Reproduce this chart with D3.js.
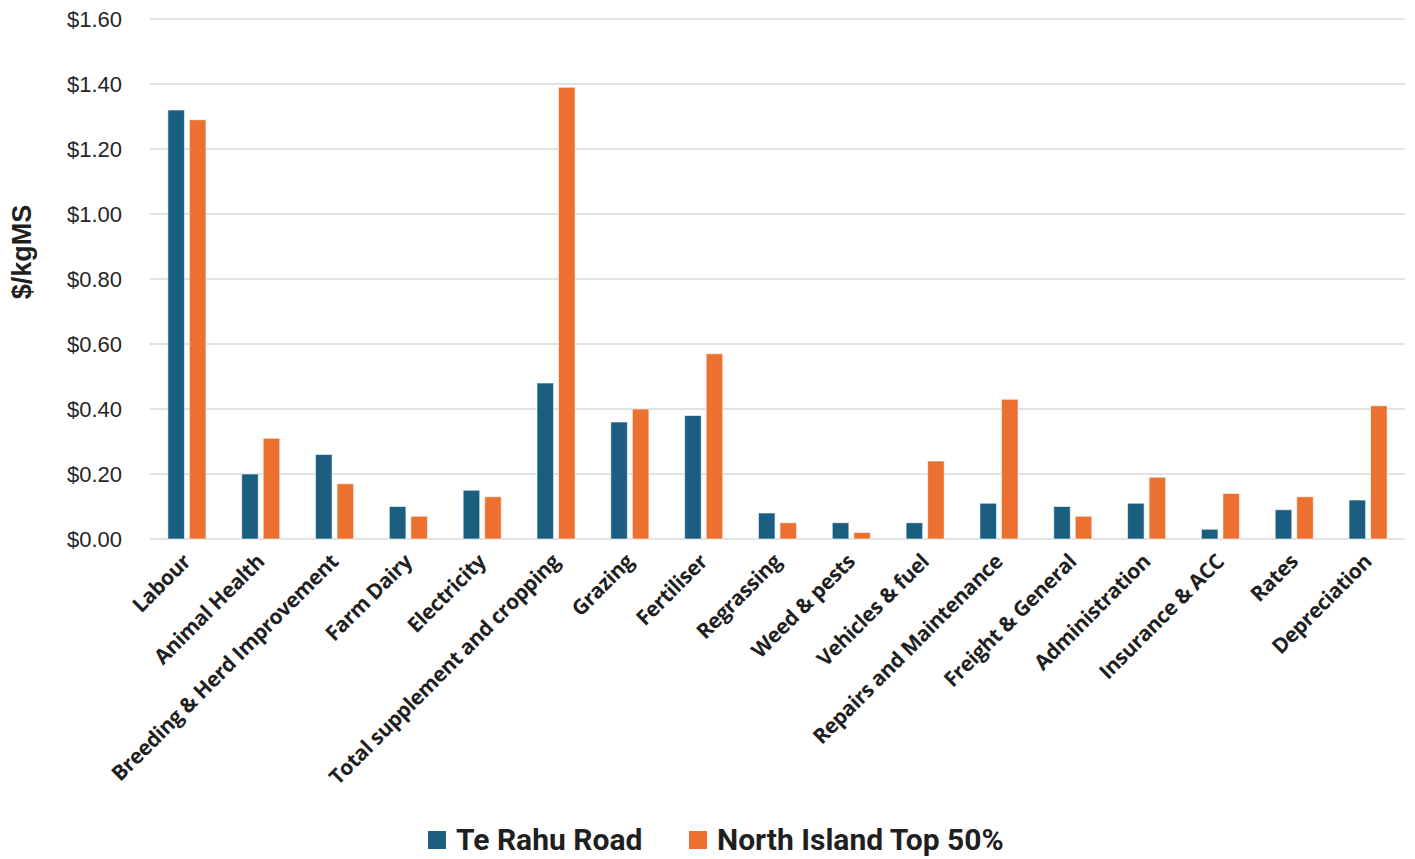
<!DOCTYPE html>
<html>
<head>
<meta charset="utf-8">
<script src="https://cdn.jsdelivr.net/npm/d3@7"></script>
<style>
  body { margin: 0; background: #fff; }
  svg { display: block; }
</style>
</head>
<body>
<div id="chart"></div>
<script>
const categories = ['Labour', 'Animal Health', 'Breeding & Herd Improvement', 'Farm Dairy', 'Electricity',
  'Total supplement and cropping', 'Grazing', 'Fertiliser', 'Regrassing', 'Weed & pests', 'Vehicles & fuel',
  'Repairs and Maintenance', 'Freight & General', 'Administration', 'Insurance & ACC', 'Rates', 'Depreciation'];
const teRahuRoad = [1.32, 0.20, 0.26, 0.10, 0.15, 0.48, 0.36, 0.38, 0.08, 0.05, 0.05, 0.11, 0.10, 0.11, 0.03, 0.09, 0.12];
const northIslandTop50 = [1.29, 0.31, 0.17, 0.07, 0.13, 1.39, 0.40, 0.57, 0.05, 0.02, 0.24, 0.43, 0.07, 0.19, 0.14, 0.13, 0.41];
const seriesNames = ['Te Rahu Road', 'North Island Top 50%'];
const yTicks = [0, 0.2, 0.4, 0.6, 0.8, 1.0, 1.2, 1.4, 1.6];

const W = 1415, H = 859;
const margin = { top: 19, right: 10, bottom: 320, left: 150 };
const colors = ['#1a5e80', '#ec7030'];

const svg = d3.select('#chart').append('svg')
  .attr('width', W).attr('height', H);

const x = d3.scaleBand()
  .domain(categories)
  .range([margin.left, W - margin.right]);

// inner band for the two series, bars ~16px wide with a small gap
const x1 = d3.scaleBand()
  .domain(seriesNames)
  .range([0, x.bandwidth()])
  .paddingInner(0.23)
  .paddingOuter(0.83);

const y = d3.scaleLinear()
  .domain([0, 1.6])
  .range([H - margin.bottom, margin.top]);

// gridlines
svg.append('g')
  .selectAll('line')
  .data(yTicks)
  .join('line')
  .attr('x1', margin.left).attr('x2', W - margin.right)
  .attr('y1', d => y(d)).attr('y2', d => y(d))
  .style('stroke', '#d9d9d9')
  .style('stroke-width', '1.5px');

// y axis labels
const yAxis = svg.append('g')
  .attr('transform', `translate(${margin.left - 28},0)`)
  .call(d3.axisLeft(y).tickValues(yTicks).tickSize(0).tickPadding(0).tickFormat(d => '$' + d.toFixed(2)));
yAxis.select('.domain').remove();
yAxis.selectAll('text')
  .style('font-family', '"Liberation Sans", Arial, sans-serif')
  .style('font-size', '22px')
  .style('fill', '#262626');

// bars
const rows = categories.map((c, i) => ({ cat: c, vals: [teRahuRoad[i], northIslandTop50[i]] }));
const groups = svg.append('g').selectAll('g')
  .data(rows)
  .join('g')
  .attr('transform', d => `translate(${x(d.cat)},0)`);

groups.selectAll('rect')
  .data(d => d.vals.map((v, j) => ({ s: seriesNames[j], v, j })))
  .join('rect')
  .attr('x', d => x1(d.s))
  .attr('width', x1.bandwidth())
  .attr('y', d => y(d.v))
  .attr('height', d => y(0) - y(d.v))
  .style('fill', d => colors[d.j])
  .style('stroke', '#ffffff')
  .style('stroke-opacity', 0.6)
  .style('stroke-width', '1px');

// category labels
svg.append('g').selectAll('text')
  .data(categories)
  .join('text')
  .attr('transform', d => `translate(${x(d) + x.bandwidth() / 2 + 5},${y(0) + 24}) rotate(-45)`)
  .attr('text-anchor', 'end')
  .style('font-family', '"Open Sans", sans-serif')
  .style('font-weight', '700')
  .style('font-size', '21px')
  .style('letter-spacing', '-0.4px')
  .style('fill', '#1f1f1f')
  .text(d => d);

// y title
svg.append('text')
  .attr('transform', 'translate(31,252) rotate(-90)')
  .attr('text-anchor', 'middle')
  .style('font-family', '"Liberation Sans", Arial, sans-serif')
  .style('font-weight', '700')
  .style('font-size', '27px')
  .style('fill', '#1f1f1f')
  .text('$/kgMS');

// legend
const legendItems = [{ name: seriesNames[0], x: 428 }, { name: seriesNames[1], x: 689 }];
const legend = svg.append('g').selectAll('g')
  .data(legendItems)
  .join('g')
  .attr('transform', d => `translate(${d.x},831)`);
legend.append('rect')
  .attr('width', 18).attr('height', 18)
  .style('fill', (d, i) => colors[i]);
legend.append('text')
  .attr('x', 28).attr('y', 19)
  .style('font-family', '"Liberation Sans Narrow", "Roboto", sans-serif')
  .style('font-weight', '700')
  .style('font-size', '30px')
  .style('fill', '#1f1f1f')
  .text(d => d.name);
</script>
</body>
</html>
